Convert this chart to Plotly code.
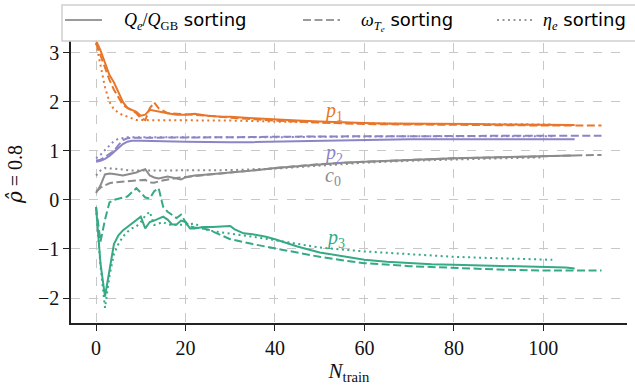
import plotly.graph_objects as go

# ---------------- data ----------------
# p1 (orange)
p1_q_x = [0,1,2,3,4,5,6,7,8,9,10,11,12,13,14,15,16,18,20,22,25,28,30,35,40,45,50,55,60,65,70,75,80,85,90,95,100,104,107]
p1_q_y = [3.25,3.05,2.8,2.55,2.4,2.2,2.0,1.88,1.84,1.8,1.72,1.74,1.84,1.82,1.8,1.78,1.77,1.74,1.74,1.76,1.72,1.7,1.7,1.67,1.64,1.62,1.6,1.58,1.57,1.56,1.56,1.55,1.55,1.55,1.54,1.54,1.54,1.54,1.53]
p1_w_x = [0,1,2,3,4,5,6,7,8,9,10,11,12,13,14,15,16,18,20,25,30,35,40,50,60,70,80,90,100,107,113]
p1_w_y = [3.2,2.95,2.7,2.45,2.25,2.08,1.94,1.88,1.82,1.77,1.67,1.63,1.87,1.99,1.87,1.82,1.77,1.76,1.75,1.72,1.68,1.65,1.62,1.58,1.55,1.54,1.53,1.53,1.52,1.52,1.52]
p1_e_x = [0,1,2,3,4,5,6,7,8,9,10,12,15,20,25,30,40,50,60,70,80,90,100,102]
p1_e_y = [3.2,2.75,2.3,2.0,1.85,1.78,1.73,1.7,1.66,1.63,1.63,1.63,1.62,1.62,1.62,1.62,1.6,1.58,1.56,1.55,1.55,1.54,1.54,1.54]

# p2 (purple)
p2_q_x = [0,1,2,3,4,5,6,7,8,10,12,15,20,25,30,35,40,50,60,70,80,90,100,107]
p2_q_y = [0.78,0.8,0.84,0.9,0.98,1.06,1.14,1.19,1.21,1.21,1.2,1.2,1.19,1.18,1.18,1.18,1.19,1.21,1.23,1.24,1.24,1.24,1.24,1.24]
p2_w_x = [0,1,2,3,4,5,6,7,8,10,12,15,20,25,30,40,50,60,70,80,90,100,107,113]
p2_w_y = [0.8,0.82,0.88,0.94,1.0,1.12,1.22,1.26,1.27,1.27,1.27,1.28,1.28,1.28,1.28,1.29,1.3,1.3,1.3,1.31,1.31,1.31,1.31,1.31]
p2_e_x = [0,1,2,3,4,5,6,7,8,10,15,20,30,40,50,60,70,80,90,100,102]
p2_e_y = [0.85,0.92,1.02,1.12,1.2,1.25,1.27,1.28,1.28,1.28,1.27,1.27,1.27,1.28,1.29,1.3,1.3,1.3,1.3,1.3,1.3]

# c0 (gray)
c0_q_x = [0,1,2,3,4,5,6,7,8,9,10,11,12,13,14,15,16,17,18,19,20,21,22,25,28,30,35,40,45,50,55,60,65,70,75,80,85,90,95,100,104,107]
c0_q_y = [0.14,0.3,0.52,0.54,0.53,0.52,0.5,0.52,0.54,0.56,0.6,0.63,0.5,0.46,0.44,0.46,0.48,0.46,0.44,0.42,0.46,0.48,0.5,0.52,0.54,0.56,0.6,0.65,0.69,0.73,0.76,0.78,0.8,0.82,0.83,0.85,0.86,0.87,0.88,0.88,0.9,0.91]
c0_w_x = [0,1,2,3,4,6,8,10,11,12,13,14,16,18,20,22,25,30,40,50,60,70,80,90,100,107,110,113]
c0_w_y = [0.17,0.25,0.3,0.34,0.36,0.37,0.38,0.4,0.41,0.36,0.35,0.38,0.42,0.45,0.47,0.49,0.52,0.56,0.65,0.73,0.78,0.82,0.85,0.87,0.89,0.91,0.92,0.92]
c0_e_x = [0,1,2,3,4,6,8,10,12,14,16,18,20,25,30,40,50,60,70,80,90,100]
c0_e_y = [0.5,0.6,0.65,0.65,0.64,0.62,0.6,0.6,0.6,0.61,0.61,0.61,0.6,0.6,0.61,0.64,0.7,0.76,0.8,0.83,0.85,0.87]

# p3 (green)
p3_q_x = [0,1,2,3,4,5,6,7,8,9,10,11,12,13,14,15,16,17,18,19,20,21,22,24,26,28,30,31,33,35,38,40,45,50,55,60,65,70,75,80,85,90,95,100,105,107]
p3_q_y = [-0.14,-1.3,-1.97,-1.4,-0.9,-0.72,-0.62,-0.55,-0.48,-0.42,-0.34,-0.58,-0.45,-0.42,-0.38,-0.34,-0.4,-0.5,-0.5,-0.42,-0.45,-0.58,-0.58,-0.55,-0.55,-0.54,-0.53,-0.6,-0.68,-0.7,-0.75,-0.8,-0.95,-1.07,-1.15,-1.22,-1.26,-1.29,-1.31,-1.32,-1.33,-1.34,-1.36,-1.37,-1.38,-1.4]
p3_w_x = [0,1,2,3,4,5,6,7,8,9,10,11,12,13,14,15,16,17,18,19,20,21,22,25,30,35,40,45,50,55,60,70,80,90,100,107,113]
p3_w_y = [-0.15,-0.85,-0.4,-0.05,0.0,0.03,0.05,0.07,0.15,0.24,0.15,0.05,0.03,0.18,0.24,-0.14,-0.24,-0.3,-0.37,-0.3,-0.45,-0.54,-0.56,-0.6,-0.8,-0.9,-0.99,-1.08,-1.16,-1.23,-1.29,-1.35,-1.39,-1.42,-1.44,-1.44,-1.44]
p3_e_x = [0,1,2,3,4,5,6,7,8,9,10,11,12,13,14,15,16,18,20,22,25,30,35,40,45,50,60,70,80,90,100,102]
p3_e_y = [-0.15,-1.35,-2.2,-1.55,-1.1,-0.9,-0.75,-0.65,-0.58,-0.54,-0.45,-0.32,-0.24,-0.51,-0.48,-0.45,-0.5,-0.51,-0.5,-0.48,-0.62,-0.68,-0.75,-0.82,-0.9,-0.97,-1.05,-1.1,-1.16,-1.19,-1.22,-1.22]

param_labels = ["p1", "p2", "c0", "p3"]
label_x = [53, 53, 53, 53.5]
label_y = [1.80, 0.95, 0.48, -0.78]

x_ticks = [0, 20, 40, 60, 80, 100]
y_ticks = [-2, -1, 0, 1, 2, 3]

# ---------------- style ----------------
W, H = 635, 385
ML, MR, MT, MB = 71, 8, 25, 62
colors = {"p1": "#e8762a", "p2": "#8b85c6", "c0": "#8c8c8c", "p3": "#36a985"}
dashes = {"q": "solid", "w": "8px,3.5px", "e": "2px,3.5px"}
SERIF = "Liberation Serif"
SERIF2 = "DejaVu Serif"
SANS = "DejaVu Sans"

def serif(t, fam=SERIF):
    return f'<span style="font-family:{fam}">{t}</span>'

series = {
    "p1": {"q": (p1_q_x, p1_q_y), "w": (p1_w_x, p1_w_y), "e": (p1_e_x, p1_e_y)},
    "p2": {"q": (p2_q_x, p2_q_y), "w": (p2_w_x, p2_w_y), "e": (p2_e_x, p2_e_y)},
    "c0": {"q": (c0_q_x, c0_q_y), "w": (c0_w_x, c0_w_y), "e": (c0_e_x, c0_e_y)},
    "p3": {"q": (p3_q_x, p3_q_y), "w": (p3_w_x, p3_w_y), "e": (p3_e_x, p3_e_y)},
}

fig = go.Figure()
for p in ["c0", "p2", "p3", "p1"]:
    for s in ["q", "w", "e"]:
        xs, ys = series[p][s]
        fig.add_trace(go.Scatter(x=xs, y=ys, mode="lines", showlegend=False,
                                 line=dict(color=colors[p], width=2, dash=dashes[s]),
                                 hoverinfo="skip"))

# ---- manual legend (pixel helpers -> paper coords) ----
PW, PH = W - ML - MR, H - MT - MB
def px(xp):
    return (xp - ML) / PW
def py(yp):
    return (H - MB - yp) / PH

fig.add_shape(type="rect", xref="paper", yref="paper", layer="above",
              x0=px(62), x1=px(650), y0=py(41), y1=py(5),
              fillcolor="rgba(255,255,255,1)", line=dict(color="#d0d0d0", width=1.5))

leg_y = 20
leg_items = [
    ("q", 65, 102, 122, "<i>Q</i><sub><i>e</i></sub>/<i>Q</i><sub>GB</sub>"),
    ("w", 303, 340, 359, "<i>ω</i><sub><i>T<sub>e</sub></i></sub>"),
    ("e", 497, 533, 541, "<i>η</i><sub><i>e</i></sub>"),
]
for s, x0, x1, tx, math in leg_items:
    fig.add_shape(type="line", xref="paper", yref="paper", layer="above",
                  x0=px(x0), x1=px(x1), y0=py(leg_y), y1=py(leg_y),
                  line=dict(color="#9a9a9a", width=2, dash=dashes[s]))
    fig.add_annotation(xref="paper", yref="paper", x=px(tx), y=py(leg_y + 1),
                       xanchor="left", yanchor="middle", showarrow=False,
                       text=serif(math) + " sorting",
                       font=dict(family=SANS, size=18, color="black"))

label_text = {"p1": "<i>p</i><sub>1</sub>", "p2": "<i>p</i><sub>2</sub>",
              "c0": "<i>c</i><sub>0</sub>", "p3": "<i>p</i><sub>3</sub>"}
for p, lx, ly in zip(param_labels, label_x, label_y):
    fig.add_annotation(x=lx, y=ly, text=serif(label_text[p]), showarrow=False,
                       font=dict(family=SERIF, size=20, color=colors[p]))

fig.update_layout(
    width=W, height=H,
    margin=dict(l=ML, r=MR, t=MT, b=MB, autoexpand=False),
    plot_bgcolor="white", paper_bgcolor="white",
    showlegend=False,
    font=dict(family=SERIF, size=20, color="#111"),
)
fig.update_xaxes(range=[-5.6, 118.7], tickvals=x_ticks,
                 ticktext=[str(v) for v in x_ticks],
                 showline=True, linecolor="#222", linewidth=1.5, mirror=False,
                 ticks="outside", ticklen=6, tickwidth=1.2, tickcolor="#222",
                 showgrid=True, gridcolor="#c8c8c8", griddash="dash", gridwidth=1,
                 zeroline=False,
                 tickfont=dict(family=SERIF, size=20, color="#111"),
                 title=dict(text="<i>N</i><sub>train</sub>", font=dict(family=SERIF, size=21, color="#111"), standoff=6))
y_ticktext = [("−" + str(-v)) if v < 0 else str(v) for v in y_ticks]
fig.update_yaxes(range=[-2.51, 3.57], tickvals=y_ticks, ticktext=y_ticktext,
                 showline=True, linecolor="#222", linewidth=1.5, mirror=False,
                 ticks="outside", ticklen=6, tickwidth=1.2, tickcolor="#222",
                 showgrid=True, gridcolor="#c8c8c8", griddash="dash", gridwidth=1,
                 zeroline=False,
                 tickfont=dict(family=SERIF, size=20, color="#111"),
                 title=dict(text=serif("<i>ρ̂</i>", SERIF2) + " = 0.8",
                            font=dict(family=SERIF, size=20, color="#111"), standoff=10))

fig.write_html("out.html")
